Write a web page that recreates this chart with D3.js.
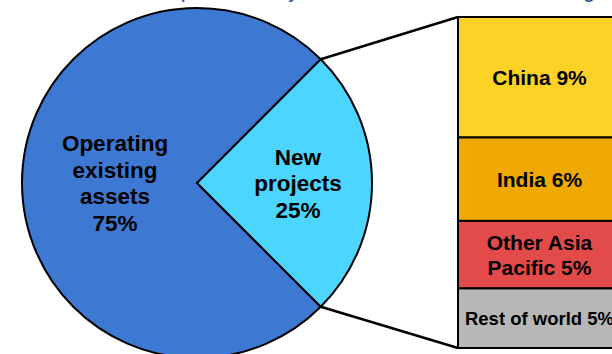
<!DOCTYPE html>
<html>
<head>
<meta charset="utf-8">
<script src="https://cdn.jsdelivr.net/npm/d3@7"></script>
<style>
  html, body { margin: 0; padding: 0; background: #fff; }
  svg { display: block; font-family: "Liberation Sans", Arial, sans-serif; }
</style>
</head>
<body>
<svg id="chart" width="612" height="354"></svg>
<script>
// pie: split of spend
var pieNames = ["Operating existing assets", "New projects"];
var pieLines = [["Operating", "existing", "assets"], ["New", "projects"]];
var pieValues = [75, 25];
var pieColors = ["#3d78d2", "#4cd5ff"];

// bar: where the new projects go
var regionNames = ["China", "India", "Other Asia Pacific", "Rest of world"];
var regionLines = [["China"], ["India"], ["Other Asia", "Pacific"], ["Rest of world"]];
var regionValues = [9.1, 6.3, 5.1, 4.5];
var regionColors = ["#fdd227", "#f0a900", "#e34b4b", "#b7b7b7"];

var titleText = "Spend mostly to sustain the base of existing";

var svg = d3.select("#chart");

// title sits above the top edge, only descenders peek in
svg.append("text")
  .attr("x", 166)
  .attr("y", -3)
  .style("font-size", "22px")
  .style("fill", "#1f4e9a")
  .text(titleText);

var cx = 197, cy = 183, r = 175;

var pie = d3.pie()
  .sort(null)
  .startAngle(3 * Math.PI / 4)
  .endAngle(3 * Math.PI / 4 + 2 * Math.PI);

var arcs = pie(pieValues);
var arc = d3.arc().innerRadius(0).outerRadius(r);

var g = svg.append("g").attr("transform", "translate(" + cx + "," + cy + ")");

g.selectAll("path.slice")
  .data(arcs)
  .enter().append("path")
    .attr("class", "slice")
    .attr("d", arc)
    .style("fill", function(d, i) { return pieColors[i]; })
    .style("stroke", "#000")
    .style("stroke-width", 2)
    .style("stroke-linejoin", "miter");

/* labels, at their own distance from the middle */
var labelR = [82, 101];
g.selectAll("text.pielabel")
  .data(arcs)
  .enter().append("text")
    .attr("class", "pielabel")
    .attr("text-anchor", "middle")
    .style("font-size", "22.5px")
    .style("font-weight", "bold")
    .style("fill", "#000")
    .each(function(d, i) {
      var c = d3.arc().innerRadius(labelR[i]).outerRadius(labelR[i]).centroid(d);
      var lines = pieLines[i].concat([d.data + "%"]);
      var lh = 26.5;
      var y0 = c[1] - (lines.length - 1) * lh / 2 + 8;
      var t = d3.select(this);
      lines.forEach(function(s, k) {
        t.append("tspan").attr("x", c[0]).attr("y", y0 + k * lh).text(s);
      });
    });

// stacked bar on the right
var barX = 458, barW = 164;
var total = d3.sum(regionValues);
var y = d3.scaleLinear().domain([0, total]).range([17, 348]);

var cum = 0;
var stack = regionValues.map(function(v, i) {
  var s = { name: regionNames[i], v: v, y0: cum, y1: cum + v, i: i };
  cum += v;
  return s;
});

// connector lines from the slice edge to the bar corners
var newSlice = arcs[1];
[newSlice.startAngle, newSlice.endAngle].forEach(function(a, k) {
  var px = cx + r * Math.sin(a), py = cy - r * Math.cos(a);
  svg.append("line")
    .attr("x1", px).attr("y1", py)
    .attr("x2", barX).attr("y2", k === 0 ? y(0) : y(total))
    .style("stroke", "#000")
    .style("stroke-width", 2.5);
});

svg.selectAll("rect.region")
  .data(stack)
  .enter().append("rect")
    .attr("class", "region")
    .attr("x", barX)
    .attr("y", function(d) { return y(d.y0); })
    .attr("width", barW)
    .attr("height", function(d) { return y(d.y1) - y(d.y0); })
    .style("fill", function(d) { return regionColors[d.i]; })
    .style("stroke", "#000")
    .style("stroke-width", 2);

var fontSizes = [21, 21, 21, 18.5];
svg.selectAll("text.region")
  .data(stack)
  .enter().append("text")
    .attr("class", "region")
    .attr("text-anchor", "middle")
    .style("font-weight", "bold")
    .style("fill", "#000")
    .style("font-size", function(d) { return fontSizes[d.i] + "px"; })
    .each(function(d) {
      var lines = regionLines[d.i].slice();
      lines[lines.length - 1] += " " + Math.round(d.v) + "%";
      var lh = 25;
      var mid = (y(d.y0) + y(d.y1)) / 2;
      var y0 = mid - (lines.length - 1) * lh / 2 + fontSizes[d.i] * 0.36;
      var t = d3.select(this);
      lines.forEach(function(s, k) {
        t.append("tspan").attr("x", barX + barW / 2 - 0.5).attr("y", y0 + k * lh).text(s);
      });
    });
</script>
</body>
</html>
